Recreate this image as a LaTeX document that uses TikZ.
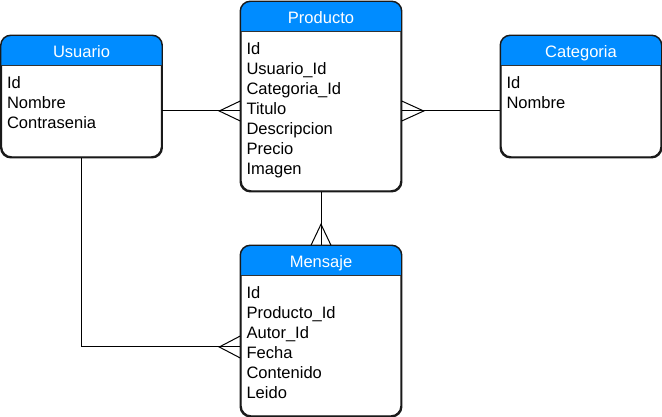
\documentclass[tikz,border=0pt]{standalone}
\usepackage{fontspec}
\setmainfont{Liberation Sans}
\usepackage{tikz}
\usetikzlibrary{calc}
\definecolor{headblue}{HTML}{008CFF}

\begin{document}
\begin{tikzpicture}[
  x=0.75pt, y=-0.75pt,
  entity/.style={draw=black!90, line width=1.1pt, rounded corners=7.5pt,
                 minimum width=120pt, inner sep=0pt},
  headtext/.style={text=white, font=\fontsize{12.4}{15}\selectfont, anchor=base},
  fields/.style={anchor=north west, inner sep=0pt, align=left,
                 font=\fontsize{12.4}{15}\selectfont},
  link/.style={draw=black, line width=0.75pt},
]
\useasboundingbox (0,0) rectangle (662,417);
% entities
\node[entity, minimum height=90.75pt] (usuario) at (81.5,96.5) {};
\node[entity, minimum height=141.75pt] (producto) at (321,96.5) {};
\node[entity, minimum height=90.75pt] (categoria) at (581,96.5) {};
\node[entity, minimum height=127.5pt] (mensaje) at (321,331) {};
% headers
\foreach \ent in {usuario, producto, categoria, mensaje} {
  \begin{scope}
    \clip[rounded corners=7.5pt] (\ent.south west) rectangle (\ent.north east);
    \fill[headblue] (\ent.north west) rectangle ($(\ent.north east)+(0,30)$);
  \end{scope}
  \draw[black!80, line width=0.6pt] ($(\ent.north west)+(0,30)$) -- ($(\ent.north east)+(0,30)$);
  \draw[black!90, line width=1.1pt, rounded corners=7.5pt]
    (\ent.south west) rectangle (\ent.north east);
}
\node[headtext] (usuarioT) at ($(usuario.north)+(0,22)$) {Usuario};
\node[headtext] (productoT) at ($(producto.north)+(0,22)$) {Producto};
\node[headtext] (categoriaT) at ($(categoria.north)+(0,22)$) {Categoria};
\node[headtext] (mensajeT) at ($(mensaje.north)+(0,22)$) {Mensaje};
% fields
\node[fields] (usuarioF) at ($(usuario.north west)+(6,41)$)
  {Id\\Nombre\\Contrasenia};
\node[fields] (productoF) at ($(producto.north west)+(6,41)$)
  {Id\\Usuario\_Id\\Categoria\_Id\\Titulo\\Descripcion\\Precio\\Imagen};
\node[fields] (categoriaF) at ($(categoria.north west)+(6,41)$)
  {Id\\Nombre};
\node[fields] (mensajeF) at ($(mensaje.north west)+(6,41)$)
  {Id\\Producto\_Id\\Autor\_Id\\Fecha\\Contenido\\Leido};
% relations
\coordinate (rowA) at (0,111);
\coordinate (rowB) at (0,347);
\draw[link] (usuario.east |- rowA) -- (producto.west |- rowA);
\draw[link] (producto.west |- rowA) ++(0,-10) -- ++(-21,10) -- ++(21,10);
\draw[link] (categoria.west |- rowA) -- (producto.east |- rowA);
\draw[link] (producto.east |- rowA) ++(0,-10) -- ++(22,10) -- ++(-22,10);
\draw[link] (producto.south) -- (mensaje.north);
\draw[link] (mensaje.north) ++(-10,0) -- ++(10,-21) -- ++(10,21);
\draw[link] (usuario.south) |- (mensaje.west |- rowB);
\draw[link] (mensaje.west |- rowB) ++(0,-11) -- ++(-21,11) -- ++(21,11);
\end{tikzpicture}
\end{document}
